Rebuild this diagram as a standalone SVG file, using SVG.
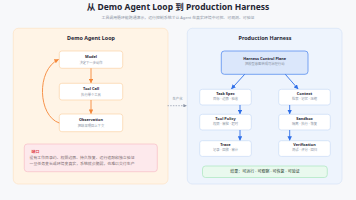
<svg xmlns="http://www.w3.org/2000/svg" width="356" height="200" viewBox="0 0 356 200">
<defs>
<marker id="ao" viewBox="0 0 10 10" refX="9" refY="5" markerWidth="5" markerHeight="5" orient="auto"><path d="M0,0 L10,5 L0,10 z" fill="#f5883a"/></marker>
<marker id="ab" viewBox="0 0 10 10" refX="9" refY="5" markerWidth="5" markerHeight="5" orient="auto"><path d="M0,0 L10,5 L0,10 z" fill="#2f6fe8"/></marker>
<marker id="ag" viewBox="0 0 10 10" refX="9" refY="5" markerWidth="5" markerHeight="5" orient="auto"><path d="M0,0 L10,5 L0,10 z" fill="#8a94a6"/></marker>
</defs>
<style>
text{font-family:"Noto Sans","Noto Sans CJK SC",sans-serif;text-anchor:middle}
.t{font-size:8.5px;font-weight:700;fill:#1f2533}
.st{font-size:3.9px;fill:#8a93a3}
.pt{font-size:5.4px;font-weight:700;fill:#1f2533}
.nt{font-size:3.9px;font-weight:700;fill:#1f2533}
.ns{font-size:3.3px;fill:#8a93a3}
.ob{fill:#ffffff;stroke:#fbd3a6;stroke-width:0.7}
.bb{fill:#ffffff;stroke:#c9dbf6;stroke-width:0.7}
.oa{stroke:#f5883a;stroke-width:0.9;fill:none}
.ba{stroke:#2f6fe8;stroke-width:0.9;fill:none}
</style>
<rect width="356" height="200" fill="#f7f8fa"/>
<text class="t" x="178" y="10.3">从 Demo Agent Loop 到 Production Harness</text>
<text class="st" x="178" y="18.6">工具调用循环能跑通演示，运行控制系统才让 Agent 在真实环境中可控、可观测、可验证</text>

<g id="left-panel">
<rect x="13.3" y="28.3" width="154.7" height="155.7" rx="5" fill="#fff4e6" stroke="#fde3c4" stroke-width="0.7"/>
<text class="pt" x="91" y="40.2">Demo Agent Loop</text>
</g>
<g id="model">
<rect class="ob" x="59.3" y="51" width="63.4" height="17.3" rx="2.5"/>
<text class="nt" x="91" y="58.4">Model</text>
<text class="ns" x="91" y="63.6">决定下一步动作</text>
</g>
<g id="tool-call">
<rect class="ob" x="59.3" y="83.3" width="63.4" height="16.7" rx="2.5"/>
<text class="nt" x="91" y="90">Tool Call</text>
<text class="ns" x="91" y="95.6">执行单个工具</text>
</g>
<g id="observation">
<rect class="ob" x="59.3" y="114" width="63.4" height="17.7" rx="2.5"/>
<text class="nt" x="91" y="121.3">Observation</text>
<text class="ns" x="91" y="126.9">把结果喂回上下文</text>
</g>
<g id="gap-note">
<rect x="24.3" y="144" width="133" height="27.7" rx="3" fill="#fde9ec" stroke="#f8bdc5" stroke-width="0.7"/>
<text x="31.5" y="152.8" style="font-size:3.9px;font-weight:700;fill:#e0454f;text-anchor:start">缺口</text>
<text x="29.5" y="158.9" style="font-size:3.9px;fill:#7a6a6e;text-anchor:start">没有工作目录约、权限边界、持久恢复、运行追踪和独立验证</text>
<text x="29.5" y="165.2" style="font-size:3.9px;fill:#7a6a6e;text-anchor:start">一旦任务变长或环境变真实，系统就会脆弱，也难以交付生产</text>
</g>

<g id="right-panel">
<rect x="187.3" y="28.3" width="154.7" height="155.7" rx="5" fill="#eef4fd" stroke="#d5e3f7" stroke-width="0.7"/>
<text class="pt" x="265" y="40.2">Production Harness</text>
</g>
<g id="control-plane">
<rect x="221.3" y="51" width="86.7" height="23.3" rx="3" fill="#dbe7fb" stroke="#5b8ff0" stroke-width="0.8"/>
<text class="nt" x="264.7" y="60">Harness Control Plane</text>
<text class="ns" x="264.7" y="65.4">把模型意图转成可治理行动</text>
</g>
<g id="task-spec">
<rect class="bb" x="199.7" y="89.3" width="51.6" height="15.7" rx="2.5"/>
<text class="nt" x="225.5" y="94.8">Task Spec</text>
<text class="ns" x="225.5" y="99.9">目标 · 边界 · 验收</text>
</g>
<g id="tool-policy">
<rect class="bb" x="199.7" y="114.3" width="51.6" height="15.7" rx="2.5"/>
<text class="nt" x="225.5" y="119.8">Tool Policy</text>
<text class="ns" x="225.5" y="124.9">权限 · 审批 · 超时</text>
</g>
<g id="trace">
<rect class="bb" x="199.7" y="140.7" width="51.6" height="15.7" rx="2.5"/>
<text class="nt" x="225.5" y="146.2">Trace</text>
<text class="ns" x="225.5" y="151.3">记录 · 回放 · 审计</text>
</g>
<g id="context">
<rect class="bb" x="278.7" y="89.3" width="51.6" height="15.7" rx="2.5"/>
<text class="nt" x="304.5" y="94.8">Context</text>
<text class="ns" x="304.5" y="99.9">检索 · 记忆 · 压缩</text>
</g>
<g id="sandbox">
<rect class="bb" x="278.7" y="114.3" width="51.6" height="15.7" rx="2.5"/>
<text class="nt" x="304.5" y="119.8">Sandbox</text>
<text class="ns" x="304.5" y="124.9">隔离 · 执行 · 恢复</text>
</g>
<g id="verification">
<rect class="bb" x="278.7" y="140.7" width="51.6" height="15.7" rx="2.5"/>
<text class="nt" x="304.5" y="146.2">Verification</text>
<text class="ns" x="304.5" y="151.3">测试 · 评分 · 回归</text>
</g>
<g id="result">
<rect x="202.5" y="166" width="124.8" height="11.5" rx="3" fill="#e9f9ee" stroke="#a9e5bd" stroke-width="0.7"/>
<text x="265" y="173.2" style="font-size:4px;fill:#1f3a2a">结果：可运行 · 可观察 · 可恢复 · 可验证</text>
</g>

<g id="connectors">
<line class="oa" x1="91" y1="68.3" x2="91" y2="82.8" marker-end="url(#ao)"/>
<line class="oa" x1="91" y1="100" x2="91" y2="113.5" marker-end="url(#ao)"/>
<path class="oa" d="M59.3 123 C38 116, 36 70, 58.5 59.5" marker-end="url(#ao)"/>
<line x1="167.5" y1="105.7" x2="186.5" y2="105.7" stroke="#8a94a6" stroke-width="0.7" stroke-dasharray="1.5 1.2" marker-end="url(#ag)"/>
<text x="177.5" y="99.5" style="font-size:3.3px;fill:#8a93a3">生产化</text>
<line class="ba" x1="244.7" y1="74.3" x2="231.5" y2="88.8" marker-end="url(#ab)"/>
<line class="ba" x1="285.3" y1="74.3" x2="298" y2="88.8" marker-end="url(#ab)"/>
<line class="ba" x1="240" y1="105" x2="240" y2="113.8" marker-end="url(#ab)"/>
<line class="ba" x1="240" y1="130" x2="240" y2="140.2" marker-end="url(#ab)"/>
<line class="ba" x1="289.7" y1="105" x2="289.7" y2="113.8" marker-end="url(#ab)"/>
<line class="ba" x1="289.7" y1="130" x2="289.7" y2="140.2" marker-end="url(#ab)"/>
</g>
</svg>
